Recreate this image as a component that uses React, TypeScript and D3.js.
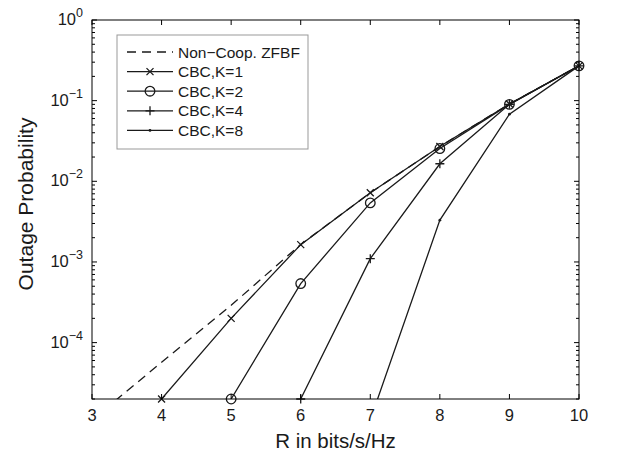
import * as d3 from "d3";

// x values (rate R in bits/s/Hz)
const rates = [3, 4, 5, 6, 7, 8, 9, 10];

// outage probability per curve (null = no point)
const nonCoop = [1.1e-5, 5.7e-5, 2.9e-4, 1.65e-3, 7.2e-3, 2.7e-2, 9.1e-2, 0.27];
const cbcK1 = [null, 2.0e-5, 2.0e-4, 1.64e-3, 7.2e-3, 2.7e-2, 9.1e-2, 0.27];
const cbcK2 = [null, null, 2.0e-5, 5.4e-4, 5.4e-3, 2.55e-2, 9.0e-2, 0.27];
const cbcK4 = [null, null, null, 2.0e-5, 1.1e-3, 1.65e-2, 9.0e-2, 0.27];
const cbcK8 = [null, null, null, null, 1.1e-5, 3.3e-3, 6.8e-2, 0.27];

const xTicks = [3, 4, 5, 6, 7, 8, 9, 10];
const yExponents = [0, -1, -2, -3, -4];

const W = 625;
const H = 453;
const M = { left: 92, right: 46, top: 20, bottom: 54 };

type Marker = "none" | "x" | "o" | "+" | "dot";
const series: { name: string; values: (number | null)[]; dash?: string; marker: Marker }[] = [
  { name: "Non\u2212Coop. ZFBF", values: nonCoop, dash: "9,6", marker: "none" },
  { name: "CBC,K=1", values: cbcK1, marker: "x" },
  { name: "CBC,K=2", values: cbcK2, marker: "o" },
  { name: "CBC,K=4", values: cbcK4, marker: "+" },
  { name: "CBC,K=8", values: cbcK8, marker: "dot" },
];

const FONT = "'Liberation Sans', Arial, Helvetica, sans-serif";
const INK = "#1a1a1a";
const LW = 1.3;

function MarkerShape({ type, x, y }: { type: Marker; x: number; y: number }) {
  const s = 3.5;
  if (type === "x")
    return (
      <path
        d={`M${x - s},${y - s}L${x + s},${y + s}M${x - s},${y + s}L${x + s},${y - s}`}
        stroke={INK}
        strokeWidth={LW}
      />
    );
  if (type === "o") return <circle cx={x} cy={y} r={4.8} fill="none" stroke={INK} strokeWidth={LW} />;
  if (type === "+")
    return (
      <path
        d={`M${x - 4.5},${y}L${x + 4.5},${y}M${x},${y - 4.5}L${x},${y + 4.5}`}
        stroke={INK}
        strokeWidth={LW}
      />
    );
  if (type === "dot") return <circle cx={x} cy={y} r={1.4} fill={INK} />;
  return null;
}

export default function App() {
  const innerW = W - M.left - M.right;
  const innerH = H - M.top - M.bottom;
  const x = d3.scaleLinear().domain([3, 10]).range([M.left, M.left + innerW]);
  const y = d3.scaleLog().domain([2e-5, 1]).range([M.top + innerH, M.top]);

  const line = d3
    .line<[number, number | null]>()
    .defined((d) => d[1] !== null)
    .x((d) => x(d[0]))
    .y((d) => y(d[1] as number));

  // minor ticks on log axis
  const minor: number[] = [];
  for (let e = -5; e < 0; e++) {
    for (let m = 2; m <= 9; m++) {
      const v = m * Math.pow(10, e);
      if (v >= 2e-5 && v < 1) minor.push(v);
    }
  }

  const x0 = M.left;
  const x1 = M.left + innerW;
  const y0 = M.top + innerH;
  const y1 = M.top;

  const legX = 117;
  const legY = 35;
  const legW = 191;
  const legH = 114;

  return (
    <svg width={W} height={H} style={{ position: "absolute", left: 0, top: 0, background: "#fff" }}>
      <defs>
        <clipPath id="plot">
          <rect x={x0} y={y1} width={innerW} height={innerH} />
        </clipPath>
      </defs>
      <rect width={W} height={H} fill="#fff" />

      {/* curves */}
      <g clipPath="url(#plot)">
        {series.map((s) => (
          <path
            key={s.name}
            d={line(rates.map((r, i) => [r, s.values[i]] as [number, number | null])) || ""}
            fill="none"
            stroke={INK}
            strokeWidth={LW}
            strokeDasharray={s.dash}
          />
        ))}
      </g>
      {series.map((s) =>
        rates.map((r, i) => {
          const v = s.values[i];
          if (v === null || v < 2e-5 * 0.999) return null;
          return <MarkerShape key={s.name + r} type={s.marker} x={x(r)} y={y(v)} />;
        })
      )}

      {/* axes box */}
      <rect x={x0} y={y1} width={innerW} height={innerH} fill="none" stroke="#000" strokeWidth={1} />

      {/* x ticks */}
      {xTicks.map((t) => (
        <g key={"xt" + t}>
          <line x1={x(t)} x2={x(t)} y1={y0} y2={y0 - 5} stroke="#000" />
          <line x1={x(t)} x2={x(t)} y1={y1} y2={y1 + 5} stroke="#000" />
          <text x={x(t)} y={y0 + 22} textAnchor="middle" fontSize={16.5} fontFamily={FONT} fill={INK}>
            {t}
          </text>
        </g>
      ))}

      {/* y ticks */}
      {yExponents.map((e) => {
        const yy = y(Math.pow(10, e));
        return (
          <g key={"yt" + e}>
            <line x1={x0} x2={x0 + 5} y1={yy} y2={yy} stroke="#000" />
            <line x1={x1} x2={x1 - 5} y1={yy} y2={yy} stroke="#000" />
            <text x={x0 - 9} y={yy + 5} textAnchor="end" fontSize={16.5} fontFamily={FONT} fill={INK}>
              10
              <tspan dy={-8} fontSize={12.5}>
                {e === 0 ? "0" : "\u2212" + Math.abs(e)}
              </tspan>
            </text>
          </g>
        );
      })}
      {minor.map((v) => (
        <g key={"mt" + v}>
          <line x1={x0} x2={x0 + 3} y1={y(v)} y2={y(v)} stroke="#000" />
          <line x1={x1} x2={x1 - 3} y1={y(v)} y2={y(v)} stroke="#000" />
        </g>
      ))}

      {/* axis labels */}
      <text x={(x0 + x1) / 2} y={448} textAnchor="middle" fontSize={20.5} fontFamily={FONT} fill={INK}>
        R in bits/s/Hz
      </text>
      <text
        transform={`translate(33,204) rotate(-90)`}
        textAnchor="middle"
        fontSize={21}
        fontFamily={FONT}
        fill={INK}
      >
        Outage Probability
      </text>

      {/* legend */}
      <rect x={legX} y={legY} width={legW} height={legH} fill="#fff" stroke="#999" strokeWidth={1} />
      {series.map((s, i) => {
        const ly = legY + 17 + i * 19.6;
        return (
          <g key={"leg" + s.name}>
            <line
              x1={legX + 10}
              x2={legX + 56}
              y1={ly}
              y2={ly}
              stroke={INK}
              strokeWidth={LW}
              strokeDasharray={s.dash}
            />
            <MarkerShape type={s.marker} x={legX + 33} y={ly} />
            <text x={legX + 61} y={ly + 5.5} fontSize={15.5} fontFamily={FONT} fill={INK}>
              {s.name}
            </text>
          </g>
        );
      })}
    </svg>
  );
}
